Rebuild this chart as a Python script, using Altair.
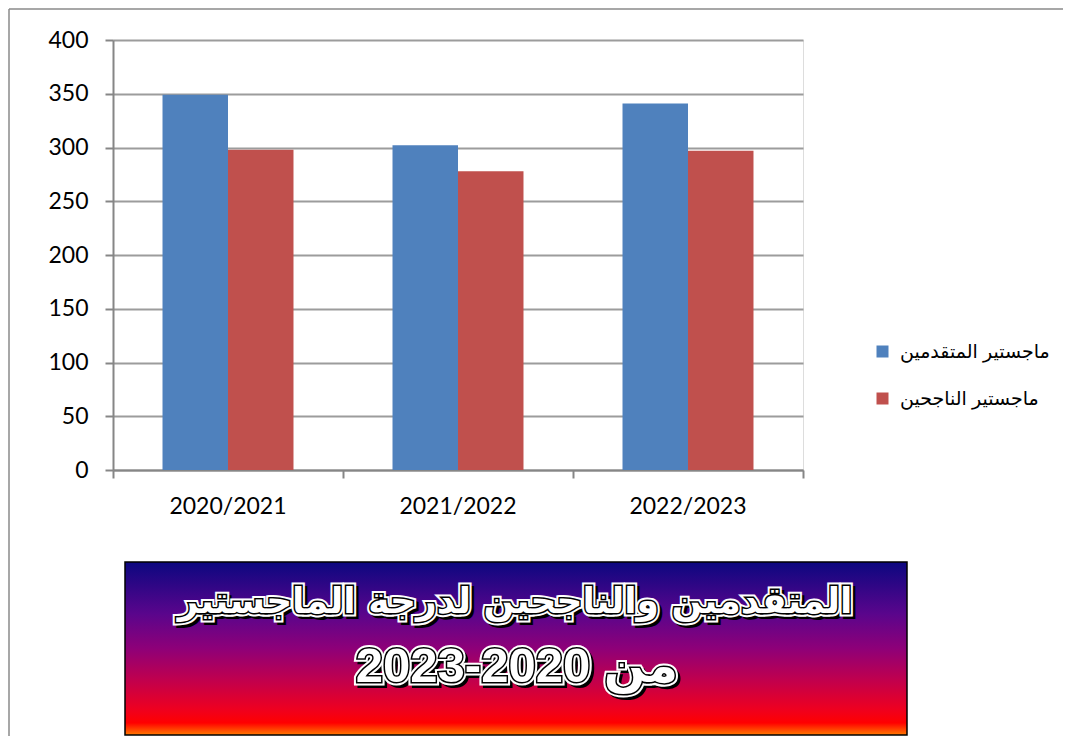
import altair as alt
import pandas as pd

# ---- data ----
years = ["2020/2021", "2021/2022", "2022/2023"]
series = ["ماجستير المتقدمين", "ماجستير الناجحين"]
applicants = [349, 302, 341]
passed = [298, 278, 297]
y_ticks = [0, 50, 100, 150, 200, 250, 300, 350, 400]
title_line1 = "المتقدمين والناجحين لدرجة الماجستير"
title_line2 = "2023-2020 من"
colors = ["#4F81BD", "#C0504D"]

rows = []
for i, yr in enumerate(years):
    rows.append({"year": yr, "series": series[0], "value": applicants[i]})
    rows.append({"year": yr, "series": series[1], "value": passed[i]})
df = pd.DataFrame(rows)

W, H = 690, 430
AXIS_GRAY = "#868686"

bars = alt.Chart(df).mark_bar().encode(
    x=alt.X("year:N", sort=years,
            scale=alt.Scale(paddingInner=0, paddingOuter=0),
            axis=alt.Axis(title=None, labelAngle=0, bandPosition=1, tickExtra=True,
                          labelFont="Lato", labelFontSize=23, labelColor="black",
                          labelPadding=17, tickSize=8, tickWidth=2, tickColor=AXIS_GRAY,
                          domainColor=AXIS_GRAY, domainWidth=2, grid=False)),
    xOffset=alt.XOffset("series:N", sort=series,
                        scale=alt.Scale(paddingInner=0, paddingOuter=0.756)),
    y=alt.Y("value:Q", scale=alt.Scale(domain=[0, 400], nice=False),
            axis=alt.Axis(title=None, values=y_ticks, labelFont="Lato", labelFontSize=23,
                          labelColor="black", labelPadding=17, tickSize=8, tickWidth=2,
                          tickColor=AXIS_GRAY, domainColor=AXIS_GRAY, domainWidth=2,
                          grid=True, gridColor="#9c9c9c", gridWidth=2)),
    color=alt.Color("series:N", sort=series,
                    scale=alt.Scale(domain=series, range=colors),
                    legend=alt.Legend(title=None, orient="none", legendX=760, legendY=302,
                                      symbolType="square", symbolSize=144, symbolStrokeWidth=0,
                                      labelFont="Liberation Sans, DejaVu Sans", labelFontSize=19,
                                      labelColor="black", labelOffset=8, labelLimit=400,
                                      rowPadding=27, padding=0)),
)

one = pd.DataFrame({"k": [0]})

box = alt.Chart(one).mark_rect(
    fill=alt.Gradient(
        gradient="linear", x1=0, y1=0, x2=0, y2=1,
        stops=[
            alt.GradientStop(color="#0c0780", offset=0),
            alt.GradientStop(color="#5a058c", offset=0.3),
            alt.GradientStop(color="#8e0078", offset=0.5),
            alt.GradientStop(color="#c0004e", offset=0.68),
            alt.GradientStop(color="#ee0020", offset=0.85),
            alt.GradientStop(color="#ff0000", offset=0.93),
            alt.GradientStop(color="#ff7a00", offset=1),
        ]),
    stroke="black", strokeWidth=1.5,
).encode(x=alt.value(12), x2=alt.value(794), y=alt.value(522), y2=alt.value(695))


def outlined(text, x, y, size, font):
    d = pd.DataFrame({"t": [text]})
    common = dict(font=font, fontSize=size, fontWeight="bold", align="center", baseline="middle")
    enc = dict(x=alt.value(x), y=alt.value(y), text="t:N")
    shadow = alt.Chart(d).mark_text(fill="black", stroke="black", strokeWidth=6,
                                    dx=3, dy=3, **common).encode(**enc)
    halo = alt.Chart(d).mark_text(fill="white", stroke="white", strokeWidth=7,
                                  **common).encode(**enc)
    edge = alt.Chart(d).mark_text(fill="white", stroke="black", strokeWidth=3,
                                  **common).encode(**enc)
    face = alt.Chart(d).mark_text(fill="white", **common).encode(**enc)
    return [shadow, halo, edge, face]


t1 = outlined(title_line1, 402, 562, 36, "DejaVu Sans")
t2 = outlined(title_line2, 404, 627, 49, "Liberation Sans, DejaVu Sans")

border_top = alt.Chart(one).mark_rule(color="#8a8a8a", strokeWidth=1.5).encode(
    x=alt.value(-104), x2=alt.value(W + 300), y=alt.value(-31))
border_left = alt.Chart(one).mark_rule(color="#8a8a8a", strokeWidth=1.5).encode(
    x=alt.value(-104), y=alt.value(-31), y2=alt.value(H + 300))

chart = alt.layer(bars, border_top, border_left, box, *t1, *t2).properties(
    width=W, height=H,
    autosize=alt.AutoSizeParams(type="none"),
    padding={"left": 105, "top": 32, "right": 260, "bottom": 266},
).configure_view(stroke=None).configure(background="white")

chart.save("out.html", embed_options={"renderer": "svg", "actions": False})
